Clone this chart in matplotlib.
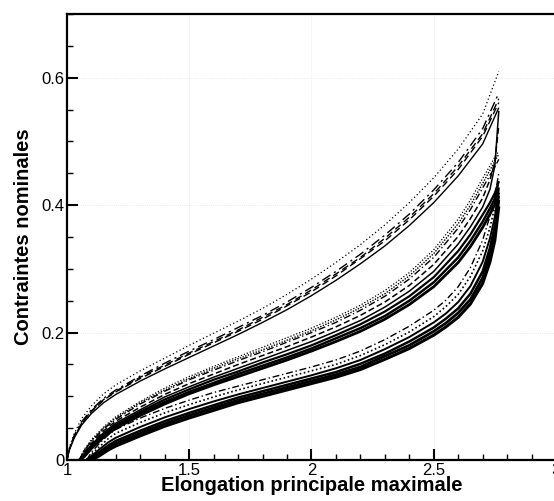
import matplotlib
matplotlib.use("Agg")
import matplotlib.pyplot as plt
from matplotlib.ticker import MultipleLocator

plt.rcParams['font.family'] = ['Liberation Sans', 'DejaVu Sans']

# --- upper family (5 curves, stiffest) ---
TOP_X = [1.0, 1.01, 1.03, 1.06, 1.1, 1.15, 1.2, 1.3, 1.4, 1.5, 1.6, 1.7, 1.8, 1.9,
         2.0, 2.1, 2.2, 2.3, 2.4, 2.5, 2.6, 2.7, 2.766]
TOP_DOT = [0, 0.020, 0.042, 0.065, 0.085, 0.104, 0.118, 0.140, 0.160, 0.180, 0.199, 0.218,
           0.238, 0.260, 0.284, 0.310, 0.338, 0.369, 0.404, 0.443, 0.488, 0.543, 0.610]
TOP_DASHDOT = [0, 0.018, 0.039, 0.060, 0.079, 0.097, 0.110, 0.132, 0.152, 0.171, 0.189, 0.208,
               0.227, 0.248, 0.271, 0.296, 0.323, 0.353, 0.386, 0.424, 0.467, 0.520, 0.576]
TOP_DASH_A = [0, 0.017, 0.037, 0.058, 0.077, 0.095, 0.108, 0.130, 0.149, 0.168, 0.186, 0.204,
              0.224, 0.244, 0.267, 0.292, 0.318, 0.348, 0.381, 0.418, 0.461, 0.512, 0.567]
TOP_DASH_B = [0, 0.017, 0.037, 0.057, 0.076, 0.094, 0.107, 0.128, 0.147, 0.166, 0.184, 0.202,
              0.221, 0.242, 0.264, 0.289, 0.316, 0.344, 0.377, 0.414, 0.456, 0.508, 0.561]
TOP_SOLID = [0, 0.016, 0.035, 0.055, 0.073, 0.090, 0.103, 0.124, 0.143, 0.161, 0.179, 0.197,
             0.216, 0.236, 0.258, 0.282, 0.308, 0.336, 0.368, 0.404, 0.446, 0.496, 0.553]

# --- middle family ---
MID_X = [1.05, 1.07, 1.1, 1.15, 1.2, 1.3, 1.4, 1.5, 1.6, 1.7, 1.8, 1.9, 2.0, 2.1, 2.2,
         2.3, 2.4, 2.5, 2.6, 2.65, 2.7, 2.73, 2.75, 2.766]
MID_1 = [0, 0.016, 0.032, 0.052, 0.068, 0.092, 0.113, 0.131, 0.147, 0.162, 0.177, 0.192,
         0.207, 0.224, 0.243, 0.266, 0.294, 0.330, 0.378, 0.408, 0.442, 0.462, 0.475, 0.485]
MID_2 = [0, 0.015, 0.030, 0.050, 0.066, 0.090, 0.110, 0.128, 0.144, 0.159, 0.173, 0.188,
         0.203, 0.220, 0.239, 0.261, 0.289, 0.324, 0.371, 0.400, 0.434, 0.455, 0.469, 0.480]
MID_3 = [0, 0.014, 0.029, 0.049, 0.064, 0.088, 0.108, 0.126, 0.141, 0.156, 0.170, 0.185,
         0.200, 0.216, 0.235, 0.257, 0.284, 0.318, 0.364, 0.393, 0.427, 0.447, 0.460, 0.472]
MID_4 = [0, 0.012, 0.026, 0.046, 0.061, 0.083, 0.103, 0.120, 0.135, 0.150, 0.164, 0.178,
         0.193, 0.209, 0.227, 0.248, 0.274, 0.307, 0.351, 0.379, 0.411, 0.440, 0.468, 0.525]
MID_5 = [0, 0.010, 0.024, 0.043, 0.058, 0.079, 0.099, 0.115, 0.130, 0.144, 0.158, 0.172,
         0.186, 0.202, 0.219, 0.240, 0.265, 0.296, 0.339, 0.366, 0.397, 0.425, 0.462, 0.548]
MID_6 = [0, 0.008, 0.022, 0.040, 0.055, 0.076, 0.095, 0.111, 0.126, 0.139, 0.153, 0.166,
         0.180, 0.196, 0.213, 0.233, 0.257, 0.287, 0.328, 0.354, 0.385, 0.404, 0.419, 0.437]
MID_7 = [0, 0.006, 0.020, 0.038, 0.052, 0.073, 0.091, 0.107, 0.121, 0.135, 0.148, 0.161,
         0.175, 0.191, 0.207, 0.226, 0.250, 0.279, 0.318, 0.344, 0.374, 0.395, 0.410, 0.428]
MID_8 = [0, 0.005, 0.018, 0.036, 0.050, 0.070, 0.088, 0.104, 0.118, 0.131, 0.144, 0.157,
         0.171, 0.186, 0.202, 0.221, 0.244, 0.272, 0.310, 0.335, 0.365, 0.386, 0.401, 0.420]

# --- lower family ---
LOW_X = [1.08, 1.1, 1.13, 1.17, 1.2, 1.3, 1.4, 1.5, 1.6, 1.7, 1.8, 1.9, 2.0, 2.1, 2.2,
         2.3, 2.4, 2.5, 2.55, 2.6, 2.65, 2.7, 2.73, 2.75, 2.766]
LOW_1 = [0, 0.012, 0.025, 0.040, 0.048, 0.066, 0.081, 0.094, 0.106, 0.116, 0.126, 0.136,
         0.146, 0.157, 0.171, 0.189, 0.210, 0.235, 0.251, 0.272, 0.302, 0.345, 0.383, 0.415, 0.450]
LOW_2 = [0, 0.009, 0.020, 0.034, 0.042, 0.059, 0.074, 0.087, 0.099, 0.110, 0.120, 0.130,
         0.140, 0.150, 0.164, 0.181, 0.201, 0.225, 0.241, 0.260, 0.288, 0.328, 0.365, 0.398, 0.438]
LOW_3 = [0, 0.006, 0.016, 0.028, 0.035, 0.052, 0.067, 0.080, 0.092, 0.103, 0.113, 0.123,
         0.133, 0.144, 0.157, 0.174, 0.193, 0.216, 0.230, 0.248, 0.273, 0.311, 0.348, 0.382, 0.425]
LOW_4 = [0, 0.004, 0.012, 0.023, 0.030, 0.046, 0.061, 0.074, 0.086, 0.098, 0.108, 0.118,
         0.128, 0.138, 0.151, 0.167, 0.186, 0.208, 0.222, 0.238, 0.261, 0.296, 0.333, 0.368, 0.415]
LOW_5 = [0, 0.002, 0.009, 0.020, 0.026, 0.042, 0.057, 0.070, 0.082, 0.094, 0.104, 0.114,
         0.124, 0.134, 0.146, 0.163, 0.180, 0.202, 0.215, 0.231, 0.252, 0.286, 0.322, 0.356, 0.408]
LOW_6 = [0, 0.0, 0.006, 0.016, 0.022, 0.038, 0.053, 0.066, 0.078, 0.090, 0.100, 0.110,
         0.120, 0.130, 0.142, 0.158, 0.175, 0.196, 0.209, 0.224, 0.245, 0.277, 0.311, 0.345, 0.398]

X_TICKS = [1, 1.5, 2, 2.5, 3]
X_TICK_LABELS = ["1", "1.5", "2", "2.5", "3"]
Y_TICKS = [0, 0.2, 0.4, 0.6]
Y_TICK_LABELS = ["0", "0.2", "0.4", "0.6"]

fig = plt.figure(figsize=(5.54, 5.01), dpi=100)
ax = fig.add_axes([0.1209, 0.0818, 0.8827, 0.8902])

# (series, linestyle, linewidth)
top = [(TOP_DOT, (0, (1, 2)), 0.9), (TOP_DASHDOT, (0, (7, 3, 1.5, 3)), 1.0),
       (TOP_DASH_A, (0, (5, 3)), 1.0), (TOP_DASH_B, (2, (5, 3)), 1.0),
       (TOP_SOLID, '-', 1.0)]
mid = [(MID_1, (0, (1, 1.5)), 0.9), (MID_2, (0, (1, 1)), 1.0), (MID_3, (0, (5, 2, 1, 2)), 1.0),
       (MID_4, (0, (4, 2)), 1.1), (MID_5, '-', 1.1), (MID_6, '-', 1.6), (MID_7, '-', 1.8),
       (MID_8, '-', 2.0)]
low = [(LOW_1, (0, (5, 2, 1, 2)), 1.0), (LOW_2, (0, (1, 1.5)), 1.2), (LOW_3, '-', 1.4),
       (LOW_4, '-', 1.8), (LOW_5, '-', 2.0), (LOW_6, '-', 2.2)]

for xs, group in ((TOP_X, top), (MID_X, mid), (LOW_X, low)):
    for ys, ls, lw in group:
        ax.plot(xs, ys, color='black', linestyle=ls, linewidth=lw, solid_capstyle='butt')

ax.set_xlim(1, 3)
ax.set_ylim(0, 0.7)
ax.set_xticks(X_TICKS, X_TICK_LABELS)
ax.set_yticks(Y_TICKS, Y_TICK_LABELS)
ax.xaxis.set_minor_locator(MultipleLocator(0.1))
ax.yaxis.set_minor_locator(MultipleLocator(0.05))
ax.tick_params(which='both', direction='in', top=False, right=False, labelsize=12, pad=2)
ax.tick_params(which='major', length=8, width=1.5)
ax.tick_params(which='minor', length=4.5, width=1.0)
ax.grid(which='major', color='#e4e4e4', linestyle=':', linewidth=0.6)
for s in ax.spines.values():
    s.set_linewidth(1.6)

ax.set_xlabel("Elongation principale maximale", fontsize=14.5, fontweight='bold', labelpad=-1)
ax.set_ylabel("Contraintes nominales", fontsize=14.5, fontweight='bold', labelpad=6)

fig.savefig("out.png", dpi=100)
